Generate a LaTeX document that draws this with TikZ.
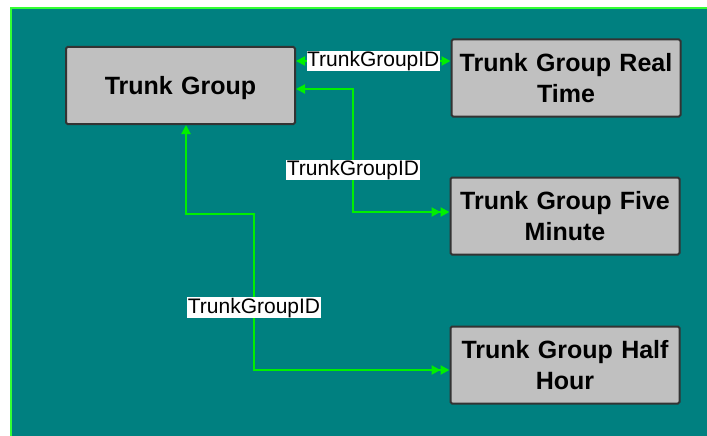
\documentclass[tikz,border=0pt]{standalone}
\usepackage{fontspec}
\setmainfont{Liberation Sans}
\usepackage{xcolor}
\usepackage{tikz}
\usetikzlibrary{arrows.meta}
\usetikzlibrary{positioning}
\definecolor{sheet}{HTML}{008080}
\definecolor{rim}{HTML}{33FF33}
\definecolor{link}{HTML}{00F000}
\definecolor{boxgray}{HTML}{C0C0C0}
\tikzstyle{table} = [rectangle, minimum width=229pt, minimum height=77pt, inner sep=0pt, text centered, text width=222pt, draw=black!80, line width=2pt, rounded corners=1.5pt, fill=boxgray, font=\fontsize{25}{31}\selectfont\bfseries]
\tikzstyle{arrow} = [line width=2pt, draw=link, >={Triangle[length=9pt,width=9pt]}]
\tikzstyle{key} = [fill=white, inner sep=0.5pt, font=\fontsize{21}{21}\selectfont]

\begin{document}
\begin{tikzpicture}[x=1pt, y=-1pt]
    \useasboundingbox (0,0) rectangle (707,436);
    \fill[sheet] (11,8) rectangle (707,436);
    \draw[rim, line width=2pt] (11,436) -- (11,8) -- (707,8);

    \node(group)[table] at (180.5,85.5) {\raisebox{-3pt}[\height][\depth]{Trunk Group}};
    \node(real)[table] at (566,78) {Trunk Group Real\\Time};
    \node(five)[table] at (565,216) {Trunk Group Five\\Minute};
    \node(half)[table] at (565,365) {Trunk Group Half\\Hour};

    \draw[arrow, <->] ([yshift=24.5pt]group.east) -- node[key] {TrunkGroupID} (real.west |- 0,61);
    \draw[arrow, <->>] ([yshift=-3.5pt]group.east) -- (353,89) -- node[key, pos=0.66] {TrunkGroupID} (353,212) -- ([yshift=4pt]five.west);
    \draw[arrow, <->>] ([xshift=5.5pt]group.south) -- (186,214) -- (254,214) -- node[key, pos=0.6] {TrunkGroupID} (254,370) -- ([yshift=-5pt]half.west);
  \end{tikzpicture}
\end{document}
